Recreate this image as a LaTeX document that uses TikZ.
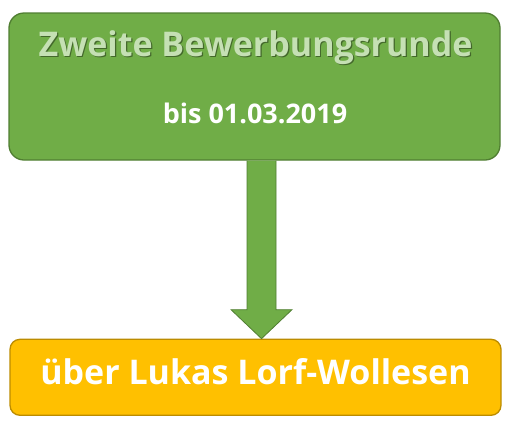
\documentclass[tikz,border=0pt]{standalone}
\usepackage{fontspec}
\setmainfont{Open Sans}
\usetikzlibrary{positioning,calc}
\definecolor{gruen}{HTML}{70AD47}
\definecolor{gruenrand}{HTML}{507E32}
\definecolor{hellgruen}{HTML}{C5E0B4}
\definecolor{gelb}{HTML}{FFC000}
\definecolor{gelbrand}{HTML}{BC8C00}

\begin{document}
\begin{tikzpicture}[x=1pt,y=1pt,node distance=178pt,
                    kasten/.style={rectangle,minimum width=491pt,line width=1.3pt,inner sep=0pt},
                    schrift/.style={anchor=base,inner sep=0pt,font=\bfseries\fontsize{#1}{#1}\selectfont}]
  \useasboundingbox (0,0) rectangle (511,-429);
  \node[kasten,draw=gruenrand,fill=gruen,rounded corners=15pt,minimum height=147pt] (runde) at (254.5,-86.5) {};
  \node[kasten,draw=gelbrand,fill=gelb,rounded corners=10pt,minimum height=76pt,below=of runde,xshift=1pt] (lukas) {};

  \node[schrift=34,text=hellgruen] (titel) at ($(runde.north)+(1,-43.7)$)
    {\rlap{\textcolor{black!40!gruen}{\raisebox{-1.8pt}{\kern1.2pt Zweite Bewerbungsrunde}}}Zweite Bewerbungsrunde};
  \node[schrift=27,text=white] (datum) at ($(runde.north)+(0.5,-111.3)$) {bis 01.03.2019};
  \node[schrift=34,text=white] (name) at ($(lukas.north)+(0,-46.3)$) {über Lukas Lorf-Wollesen};

  \coordinate (start) at ($(runde.south)+(7,0)$);
  \coordinate (spitze) at (start |- lukas.north);
  \filldraw[fill=gruen,draw=gruenrand,line width=0.8pt]
    ($(start)+(-14.5,0)$) -- ($(spitze)+(-14.5,29)$) -- ($(spitze)+(-30.5,29)$) -- (spitze)
    -- ($(spitze)+(30.5,29)$) -- ($(spitze)+(14.5,29)$) -- ($(start)+(14.5,0)$);
\end{tikzpicture}
\end{document}
